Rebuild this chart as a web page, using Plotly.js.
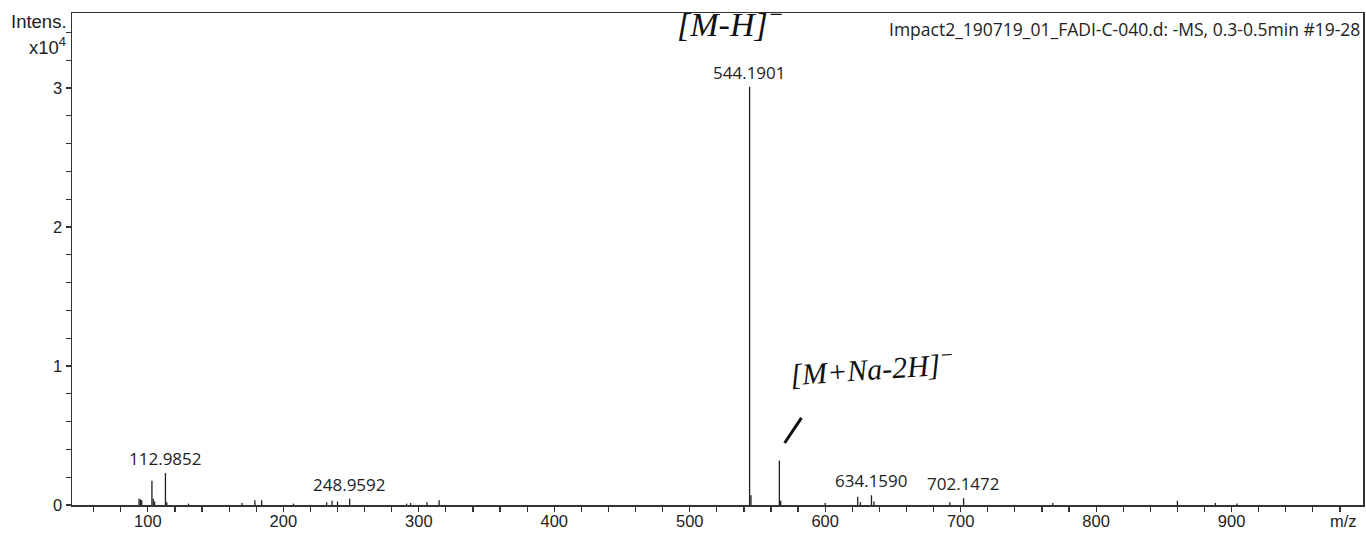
<!DOCTYPE html>
<html>
<head>
<meta charset="utf-8">
<script src="https://cdn.plot.ly/plotly-3.0.1.min.js"></script>
<style>html,body{margin:0;padding:0;background:#fff;}#chart{width:1366px;height:533px;}</style>
</head>
<body>
<div id="chart"></div>
<script>
// Peak list (m/z and intensity)
const peakMz = [93.5, 94.5, 95.5, 103.0, 104.0, 105.0, 112.9852, 114.0, 130.0, 169.5, 179.0, 184.0,
  207.5, 232.0, 236.0, 240.0, 248.9592, 291.0, 294.0, 306.0, 315.0, 544.1901, 545.19, 566.17, 567.17,
  600.0, 624.0, 626.0, 634.1590, 636.0, 692.0, 702.1472, 768.0, 860.0, 888.0, 904.0];
const peakIntensity = [450, 400, 350, 1750, 450, 250, 2300, 200, 100, 150, 350, 350,
  100, 200, 300, 250, 450, 100, 150, 200, 350, 30100, 700, 3200, 300,
  150, 600, 200, 700, 250, 200, 500, 150, 300, 150, 100];

// Labelled peaks
const labelMz = [112.9852, 248.9592, 544.1901, 634.1590, 702.1472];
const labelIntensity = [2300, 450, 30100, 700, 500];
const labelText = ["112.9852", "248.9592", "544.1901", "634.1590", "702.1472"];

// Axis ticks
const yTickVals = [0, 10000, 20000, 30000];
const yTickText = ["0", "1", "2", "3"];

const headerText = "Impact2_190719_01_FADI-C-040.d: -MS, 0.3-0.5min #19-28";

// build stick spectrum
const sx = [], sy = [];
peakMz.forEach((m, i) => { sx.push(m, m, null); sy.push(0, peakIntensity[i], null); });

const ink = '#1e1e1e';
const trace = {
  x: sx, y: sy, type: 'scatter', mode: 'lines',
  line: {color: ink, width: 1.3}, hoverinfo: 'skip', showlegend: false
};

const annotations = labelMz.map((m, i) => ({
  x: m, y: labelIntensity[i], xref: 'x', yref: 'y', text: labelText[i],
  showarrow: false, yanchor: 'bottom', xanchor: 'center', yshift: 1,
  font: {family: 'Open Sans, sans-serif', size: 17, color: '#222'}
}));

annotations.push(
  {xref: 'paper', yref: 'paper', x: 1, y: 1, xanchor: 'right', yanchor: 'top', xshift: -1, yshift: -2,
   text: headerText, showarrow: false, font: {family: 'Open Sans, sans-serif', size: 17.5, color: '#222'}},
  {xref: 'paper', yref: 'paper', x: 0, y: 1, xanchor: 'right', yanchor: 'middle', xshift: -3, yshift: -8,
   text: 'Intens.', showarrow: false, font: {family: 'Liberation Sans, Arial, sans-serif', size: 18.5, color: '#222'}},
  {xref: 'paper', yref: 'paper', x: 0, y: 1, xanchor: 'right', yanchor: 'middle', xshift: -4, yshift: -33,
   text: 'x10<sup>4</sup>', showarrow: false, font: {family: 'Liberation Sans, Arial, sans-serif', size: 18.5, color: '#222'}},
  {xref: 'paper', yref: 'paper', x: 1, y: 0, xanchor: 'right', yanchor: 'top', xshift: -4, yshift: -5,
   text: 'm/z', showarrow: false, font: {family: 'Liberation Sans, Arial, sans-serif', size: 16.5, color: '#222'}},
  // handwritten notes
  {xref: 'paper', yref: 'paper', x: 0.51, y: 1, xanchor: 'center', yanchor: 'middle', yshift: -9,
   text: '<i>[M-H]<sup>−</sup></i>', showarrow: false, font: {family: 'Liberation Serif, serif', size: 34, color: '#111'}},
  {xref: 'paper', yref: 'paper', x: 0.62, y: 0.28, xanchor: 'center', yanchor: 'middle', textangle: -4,
   text: '<i>[M+Na-2H]<sup>−</sup></i>', showarrow: false, font: {family: 'Liberation Serif, serif', size: 30, color: '#111'}}
);

const axisFont = {family: 'Liberation Sans, Arial, sans-serif', size: 16.5, color: '#222'};

const layout = {
  width: 1366, height: 533,
  margin: {l: 72, r: 3, t: 13, b: 28, pad: 0},
  paper_bgcolor: '#fff', plot_bgcolor: '#fff',
  showlegend: false,
  xaxis: {
    range: [44, 997], showgrid: false, zeroline: false,
    showline: true, linecolor: '#333', linewidth: 1.5, mirror: true,
    tickmode: 'linear', tick0: 0, dtick: 100,
    ticks: 'outside', ticklen: 5, tickcolor: '#333', tickwidth: 1.2,
    ticklabelstandoff: -4,
    minor: {tickmode: 'linear', tick0: 0, dtick: 20, ticks: 'outside', ticklen: 5, tickcolor: '#333', tickwidth: 1.2},
    tickfont: axisFont
  },
  yaxis: {
    range: [0, 35400], showgrid: false, zeroline: false,
    showline: true, linecolor: '#333', linewidth: 1.5, mirror: true,
    tickmode: 'array', tickvals: yTickVals, ticktext: yTickText,
    ticks: 'outside', ticklen: 5, tickcolor: '#333', tickwidth: 1.2,
    minor: {tickmode: 'linear', tick0: 0, dtick: 2000, ticks: 'outside', ticklen: 5, tickcolor: '#333', tickwidth: 1.2},
    tickfont: axisFont
  },
  shapes: [
    {type: 'line', xref: 'paper', yref: 'paper', x0: 0.552, y0: 0.126, x1: 0.565, y1: 0.177,
     line: {color: '#111', width: 3}}
  ],
  annotations: annotations
};

Plotly.newPlot('chart', [trace], layout, {staticPlot: true, displayModeBar: false});
</script>
</body>
</html>
